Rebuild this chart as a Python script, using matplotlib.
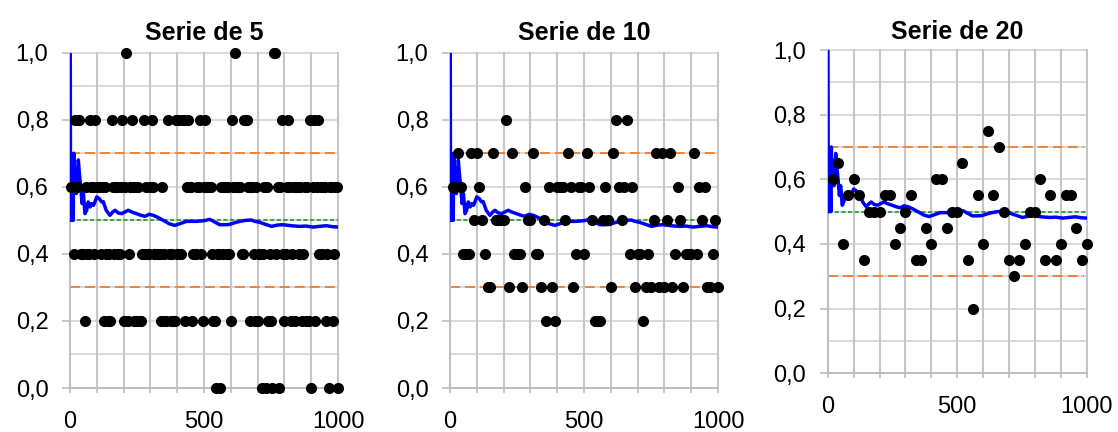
import matplotlib
matplotlib.use("Agg")
import matplotlib.pyplot as plt
from matplotlib.ticker import FixedLocator, FixedFormatter

plt.rcParams['font.family'] = ['Liberation Sans', 'DejaVu Sans']

titles = ["Serie de 5", "Serie de 10", "Serie de 20"]
group_sizes = [5, 10, 20]

# Proportion observed in each group of 5 trials (x = 5, 10, ..., 1000)
serie5 = [
    0.6, 0.6, 0.4, 0.8, 0.6, 0.8, 0.8, 0.4, 0.4, 0.4,
    0.2, 0.6, 0.4, 0.4, 0.8, 0.6, 0.6, 0.4, 0.8, 0.6,
    0.6, 0.6, 0.4, 0.6, 0.2, 0.6, 0.4, 0.2, 0.4, 0.2,
    0.8, 0.6, 0.4, 0.6, 0.6, 0.4, 0.4, 0.6, 0.8, 0.2,
    0.6, 1.0, 0.2, 0.4, 0.6, 0.8, 0.6, 0.2, 0.6, 0.2,
    0.6, 0.2, 0.2, 0.4, 0.8, 0.4, 0.6, 0.4, 0.4, 0.6,
    0.8, 0.6, 0.4, 0.4, 0.4, 0.4, 0.4, 0.2, 0.6, 0.4,
    0.2, 0.2, 0.8, 0.4, 0.2, 0.4, 0.2, 0.2, 0.8, 0.4,
    0.8, 0.4, 0.4, 0.8, 0.8, 0.2, 0.6, 0.8, 0.6, 0.6,
    0.2, 0.4, 0.4, 0.4, 0.6, 0.6, 0.8, 0.4, 0.2, 0.6,
    0.8, 0.6, 0.6, 0.6, 0.6, 0.4, 0.2, 0.2, 0.0, 0.4,
    0.4, 0.0, 0.6, 0.4, 0.6, 0.6, 0.4, 0.6, 0.4, 0.2,
    0.8, 0.6, 1.0, 0.6, 0.6, 0.6, 0.6, 0.4, 0.4, 0.8,
    0.8, 0.8, 0.6, 0.2, 0.6, 0.6, 0.4, 0.2, 0.6, 0.2,
    0.4, 0.4, 0.0, 0.4, 0.6, 0.0, 0.6, 0.2, 0.4, 0.2,
    0.0, 1.0, 1.0, 0.4, 0.6, 0.0, 0.6, 0.8, 0.4, 0.2,
    0.4, 0.6, 0.8, 0.6, 0.2, 0.4, 0.6, 0.2, 0.6, 0.6,
    0.4, 0.6, 0.2, 0.4, 0.6, 0.2, 0.6, 0.2, 0.8, 0.0,
    0.6, 0.8, 0.2, 0.6, 0.8, 0.4, 0.6, 0.4, 0.6, 0.6,
    0.2, 0.4, 0.0, 0.6, 0.6, 0.2, 0.4, 0.6, 0.6, 0.0,
]

# Proportion observed in each group of 10 trials (x = 10, 20, ..., 1000)
serie10 = [
    0.6, 0.6, 0.7, 0.6, 0.4, 0.4, 0.4, 0.7, 0.5, 0.7,
    0.6, 0.5, 0.4, 0.3, 0.3, 0.7, 0.5, 0.5, 0.5, 0.5,
    0.8, 0.3, 0.7, 0.4, 0.4, 0.4, 0.3, 0.6, 0.5, 0.5,
    0.7, 0.4, 0.4, 0.3, 0.5, 0.2, 0.6, 0.3, 0.2, 0.6,
    0.6, 0.6, 0.5, 0.7, 0.6, 0.3, 0.4, 0.6, 0.6, 0.4,
    0.7, 0.6, 0.5, 0.2, 0.2, 0.2, 0.5, 0.6, 0.5, 0.3,
    0.7, 0.8, 0.6, 0.5, 0.6, 0.8, 0.4, 0.6, 0.3, 0.4,
    0.4, 0.2, 0.3, 0.4, 0.3, 0.5, 0.7, 0.3, 0.7, 0.3,
    0.5, 0.7, 0.3, 0.4, 0.6, 0.5, 0.3, 0.4, 0.4, 0.4,
    0.7, 0.4, 0.6, 0.5, 0.6, 0.3, 0.3, 0.4, 0.5, 0.3,
]

# Proportion observed in each group of 20 trials (x = 20, 40, ..., 1000)
serie20 = [
    0.6, 0.65, 0.4, 0.55, 0.6, 0.55, 0.35, 0.5, 0.5, 0.5,
    0.55, 0.55, 0.4, 0.45, 0.5, 0.55, 0.35, 0.35, 0.45, 0.4,
    0.6, 0.6, 0.45, 0.5, 0.5, 0.65, 0.35, 0.2, 0.55, 0.4,
    0.75, 0.55, 0.7, 0.5, 0.35, 0.3, 0.35, 0.4, 0.5, 0.5,
    0.6, 0.35, 0.55, 0.35, 0.4, 0.55, 0.55, 0.45, 0.35, 0.4,
]

# Cumulative relative frequency (blue line)
freq_x = [0, 1, 2, 3, 4, 6, 8, 10, 12, 14, 16, 18, 20, 24, 28, 31, 35, 40,
          45, 50, 56, 62, 68, 75, 81, 88, 100, 109, 118, 124, 135, 149, 160,
          168, 180, 193, 205, 217, 230, 248, 265, 280, 295, 311, 330, 348,
          370, 391, 410, 435, 455, 472, 500, 522, 540, 559, 580, 596, 615,
          634, 655, 677, 690, 708, 730, 752, 775, 795, 825, 857, 880, 907,
          930, 957, 980, 1000]
freq_y = [1.0, 1.0, 0.5, 0.67, 0.5, 0.67, 0.55, 0.6, 0.5, 0.7, 0.6, 0.66,
          0.6, 0.58, 0.62, 0.68, 0.64, 0.6, 0.55, 0.58, 0.52, 0.53, 0.555,
          0.54, 0.55, 0.545, 0.57, 0.565, 0.555, 0.556, 0.53, 0.515, 0.525,
          0.53, 0.522, 0.52, 0.525, 0.53, 0.525, 0.52, 0.515, 0.512, 0.518,
          0.515, 0.508, 0.5, 0.49, 0.485, 0.49, 0.497, 0.497, 0.497, 0.499,
          0.503, 0.495, 0.487, 0.487, 0.488, 0.493, 0.497, 0.5, 0.501, 0.497,
          0.494, 0.488, 0.482, 0.486, 0.487, 0.484, 0.482, 0.483, 0.48,
          0.482, 0.484, 0.481, 0.48]

limits_orange = [0.3, 0.7]
center_green = 0.5

ytick_vals = [0.0, 0.2, 0.4, 0.6, 0.8, 1.0]
ytick_labels = ["0,0", "0,2", "0,4", "0,6", "0,8", "1,0"]
xtick_vals = [0, 100, 200, 300, 400, 500, 600, 700, 800, 900, 1000]
xtick_labels = ["0", "", "", "", "", "500", "", "", "", "", "1000"]
ygrid_vals = [0.1 * i for i in range(11)]

series = [serie5, serie10, serie20]

W, H = 1118, 432
fig = plt.figure(figsize=(W / 100, H / 100), dpi=100)

rects = [
    [70 / W, (H - 388) / H, 268 / W, 335.3 / H],
    [450 / W, (H - 388) / H, 268 / W, 335.3 / H],
    [827.7 / W, (H - 373.3) / H, 259 / W, 323.3 / H],
]
title_pads = [9, 9, 8]

for ax_i in range(3):
    ax = fig.add_axes(rects[ax_i])
    vals = series[ax_i]
    g = group_sizes[ax_i]
    xs = [g * (i + 1) for i in range(len(vals))]

    ax.set_xlim(0, 1000)
    ax.set_ylim(0, 1)

    # grid
    for yv in ygrid_vals:
        ax.axhline(yv, color='#d9d9d9', lw=1.4, zorder=0, clip_on=False)
    for xv in xtick_vals:
        ax.axvline(xv, color='#c6c6c6', lw=1.5, zorder=0, clip_on=False)

    for yv in limits_orange:
        ax.plot([0, 990], [yv, yv], color='#f07c2c', lw=1.3,
                dashes=(5.5, 2.8), zorder=2)
    ax.plot([0, 1000], [center_green, center_green], color='#1f9a1f', lw=1.2,
            dashes=(2.5, 1.5), zorder=2)

    ax.plot(freq_x, freq_y, color='#0000ff', lw=2.5, zorder=3,
            solid_joinstyle='round')

    ax.plot(xs, vals, 'o', color='black', ms=7.0, mec='black', zorder=4,
            clip_on=False)

    for s in ['top', 'right']:
        ax.spines[s].set_visible(False)
    for s in ['left', 'bottom']:
        ax.spines[s].set_color('#bfbfbf')
        ax.spines[s].set_linewidth(1.4)

    ax.yaxis.set_major_locator(FixedLocator(ytick_vals))
    ax.yaxis.set_major_formatter(FixedFormatter(ytick_labels))
    ax.xaxis.set_major_locator(FixedLocator(xtick_vals))
    ax.xaxis.set_major_formatter(FixedFormatter(xtick_labels))

    ax.tick_params(axis='y', length=5.5, width=1.2, color='#bfbfbf',
                   labelsize=17, pad=10)
    ax.tick_params(axis='x', length=3.5, width=1.2, color='#bfbfbf',
                   labelsize=17, pad=13)

    ax.set_title(titles[ax_i], fontsize=18, fontweight='bold',
                 pad=title_pads[ax_i])

fig.savefig("out.png", dpi=100)
